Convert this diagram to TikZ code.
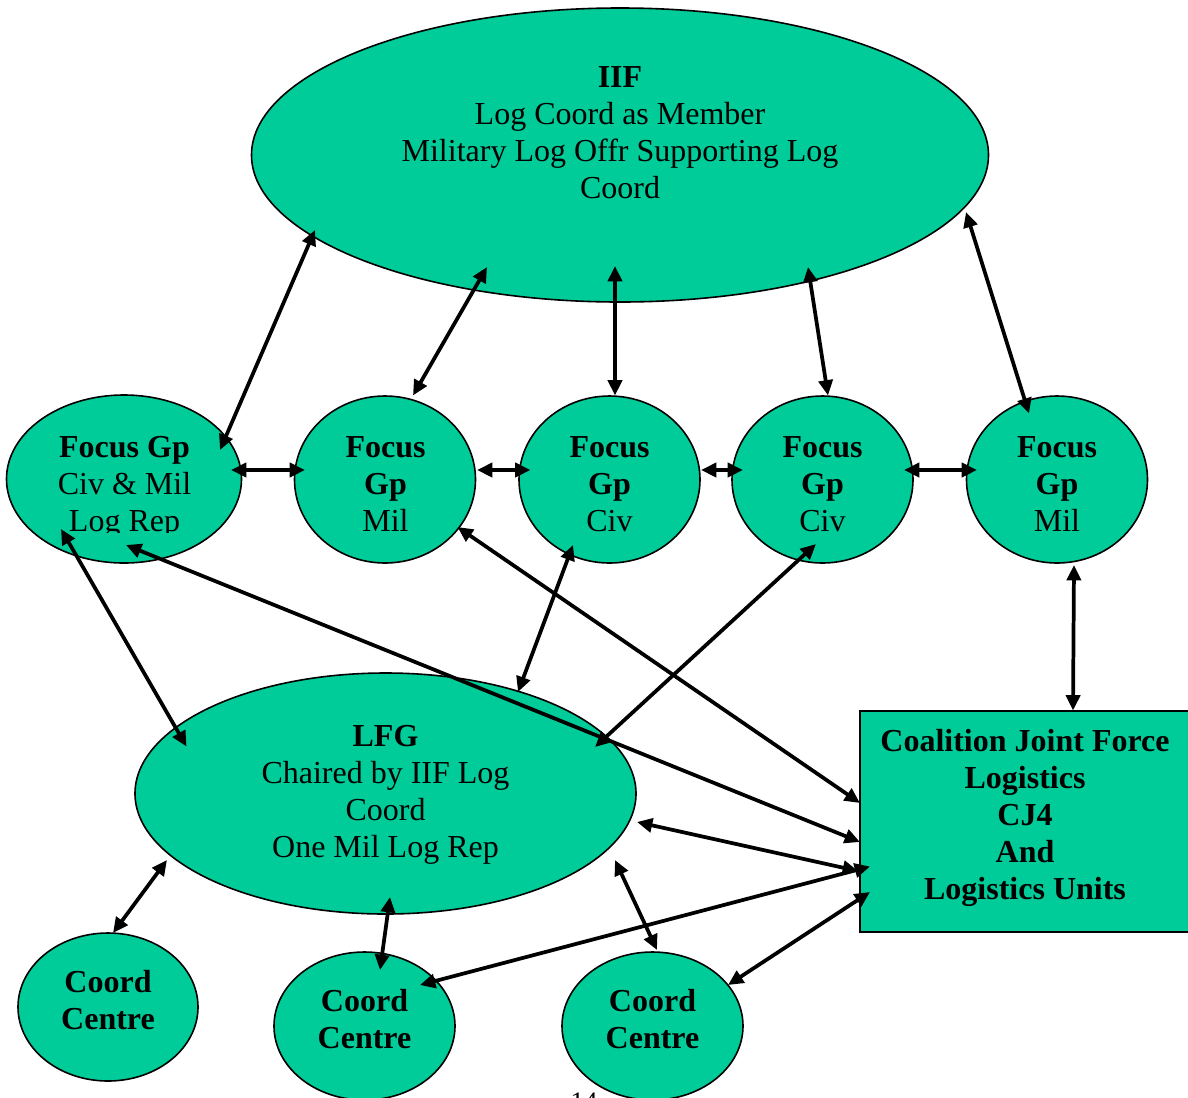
\documentclass[tikz,border=0pt]{standalone}
\usepackage{fontspec}
\setmainfont{Liberation Serif}
\usetikzlibrary{arrows.meta,shapes.geometric}
\definecolor{gteal}{RGB}{0,204,153}
\begin{document}
\begin{tikzpicture}[x=0.75pt,y=-0.75pt,
  blob/.style={ellipse, draw=black, line width=1.2pt, fill=gteal, inner sep=0pt, outer sep=0pt},
  box/.style={rectangle, draw=black, line width=1.4pt, fill=gteal, inner sep=0pt, outer sep=0pt},
  txt/.style={align=center, inner sep=0pt, font=\fontsize{24}{27.75}\selectfont},
  btxt/.style={txt, font=\fontsize{24}{27.75}\selectfont\bfseries},
  link/.style={line width=2.8pt, {Triangle[length=11.5pt,width=10.5pt]}-{Triangle[length=11.5pt,width=10.5pt]}}]
\useasboundingbox (0,0) rectangle (1188,1097);

% shapes
\node[blob, minimum width=552.75pt, minimum height=220.5pt] (iif) at (620,155) {};
\node[blob, minimum width=176.25pt, minimum height=126pt] (f1) at (124,479) {};
\node[blob, minimum width=135.75pt, minimum height=125.25pt] (f2) at (385,479.5) {};
\node[blob, minimum width=135.75pt, minimum height=125.25pt] (f3) at (609.5,479.5) {};
\node[blob, minimum width=135.75pt, minimum height=125.25pt] (f4) at (822.5,479.5) {};
\node[blob, minimum width=135.75pt, minimum height=125.25pt] (f5) at (1057,479.5) {};
\node[blob, minimum width=375.75pt, minimum height=180.75pt] (lfg) at (385.5,793.5) {};
\node[box, minimum width=247.5pt, minimum height=165.75pt] (cj4) at (1025,821.5) {};
\node[blob, minimum width=135pt, minimum height=111pt] (c1) at (108,1007) {};
\node[blob, minimum width=135.75pt, minimum height=111pt] (c2) at (364.5,1026) {};
\node[blob, minimum width=135.75pt, minimum height=111pt] (c3) at (652.5,1026) {};

% texts
\node[txt] (tiif) at (620,135.1) {\strut\textbf{IIF}\\Log Coord as Member\\Military Log Offr Supporting Log\\Coord\strut};
\begin{scope}
\clip (0,0) rectangle (1188,532);
\node[txt] (tf1) at (124.5,486.6) {\strut\textbf{Focus Gp}\\Civ \& Mil\\Log Rep\strut};
\end{scope}
\node[txt] (tf2) at (385.5,486.6) {\strut\textbf{Focus}\\\textbf{Gp}\\Mil\strut};
\node[txt] (tf3) at (609.5,486.6) {\strut\textbf{Focus}\\\textbf{Gp}\\Civ\strut};
\node[txt] (tf4) at (822.5,486.6) {\strut\textbf{Focus}\\\textbf{Gp}\\Civ\strut};
\node[txt] (tf5) at (1057,486.6) {\strut\textbf{Focus}\\\textbf{Gp}\\Mil\strut};
\node[txt] (tlfg) at (385.5,794.1) {\strut\textbf{LFG}\\Chaired by IIF Log\\Coord\\One Mil Log Rep\strut};
\node[btxt] (tcj4) at (1025,817.6) {\strut Coalition Joint Force\\Logistics\\CJ4\\And\\Logistics Units\strut};
\node[btxt] (tc1) at (108,1003.1) {\strut Coord\\Centre\strut};
\node[btxt] (tc2) at (364.5,1022.1) {\strut Coord\\Centre\strut};
\node[btxt] (tc3) at (652.5,1022.1) {\strut Coord\\Centre\strut};
\node[font=\fontsize{20}{24}\selectfont, anchor=base, inner sep=0pt] (pg) at (584,1110) {14};

% connectors
\draw[link] ([shift={(96,-29)}]f1.center) -- ([shift={(-305,75)}]iif.center);
\draw[link] ([shift={(28,-84)}]f2.center) -- ([shift={(-133,112)}]iif.center);
\draw[link] ([shift={(5.5,-84)}]f3.center) -- ([shift={(-5,111)}]iif.center);
\draw[link] ([shift={(5.5,-84)}]f4.center) -- ([shift={(188,112)}]iif.center);
\draw[link] ([shift={(-28,-66)}]f5.center) -- ([shift={(346,57)}]iif.center);
\draw[link] ([shift={(107,-9)}]f1.center) -- ([shift={(-80,-9.5)}]f2.center);
\draw[link] ([shift={(92,-9.5)}]f2.center) -- ([shift={(-79,-9.5)}]f3.center);
\draw[link] ([shift={(91.5,-9.5)}]f3.center) -- ([shift={(-79.5,-9.5)}]f4.center);
\draw[link] ([shift={(81.5,-9.5)}]f4.center) -- ([shift={(-80,-9.5)}]f5.center);
\draw[link] ([shift={(-63,50)}]f1.center) -- ([shift={(-199,-47)}]lfg.center);
\draw[link] ([shift={(2,66)}]f1.center) -- ([shift={(-165,20.5)}]cj4.center);
\draw[link] ([shift={(72.5,47.5)}]f2.center) -- ([shift={(-165,-18.5)}]cj4.center);
\draw[link] ([shift={(-36.5,65.5)}]f3.center) -- ([shift={(132.5,-101.5)}]lfg.center);
\draw[link] ([shift={(-6.5,64.5)}]f4.center) -- ([shift={(209.5,-46.5)}]lfg.center);
\draw[link] ([shift={(17,85.5)}]f5.center) -- ([shift={(48,-111)}]cj4.center);
\draw[link] ([shift={(251.5,28.5)}]lfg.center) -- ([shift={(-167,49.5)}]cj4.center);
\draw[link] ([shift={(55.5,-41)}]c2.center) -- ([shift={(-155,45)}]cj4.center);
\draw[link] ([shift={(75.5,-41)}]c3.center) -- ([shift={(-155,70.5)}]cj4.center);
\draw[link] ([shift={(229.5,66.5)}]lfg.center) -- ([shift={(4.5,-76)}]c3.center);
\draw[link] ([shift={(-218.5,66.5)}]lfg.center) -- ([shift={(5,-74)}]c1.center);
\draw[link] ([shift={(4.5,103.5)}]lfg.center) -- ([shift={(15.5,-56)}]c2.center);
\end{tikzpicture}
\end{document}
